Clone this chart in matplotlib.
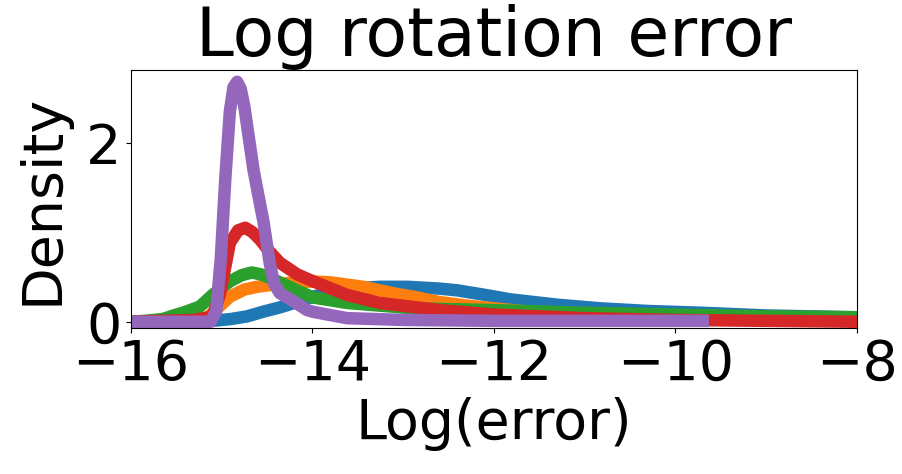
import matplotlib.pyplot as plt

# KDE curves (x = log error, y = density)
blue_x = [-16, -15.2, -14.9, -14.72, -14.55, -14.36, -14.17, -13.99, -13.8, -13.62, -13.26, -12.95, -12.6, -12.4, -12.1, -11.82, -11.3, -10.83, -10.3, -9.7, -9.0, -8.0]
blue_y = [0.0, 0.0, 0.03, 0.06, 0.11, 0.16, 0.22, 0.28, 0.33, 0.37, 0.39, 0.39, 0.37, 0.35, 0.3, 0.25, 0.19, 0.15, 0.12, 0.1, 0.07, 0.05]

orange_x = [-16, -15.2, -15.1, -14.91, -14.75, -14.61, -14.4, -14.17, -13.99, -13.8, -13.44, -13.07, -12.89, -12.6, -12.3, -12.0, -11.5, -11.0, -10.0, -9.0, -8.0]
orange_y = [0.0, 0.0, 0.1, 0.28, 0.36, 0.39, 0.42, 0.44, 0.45, 0.44, 0.39, 0.31, 0.28, 0.22, 0.18, 0.15, 0.1, 0.07, 0.04, 0.02, 0.01]

green_x = [-16, -15.85, -15.65, -15.53, -15.4, -15.24, -15.1, -14.91, -14.78, -14.67, -14.57, -14.47, -14.36, -14.17, -13.99, -13.62, -13.26, -12.89, -12.0, -11.0, -10.0, -9.0, -8.0]
green_y = [0.0, 0.01, 0.03, 0.07, 0.11, 0.17, 0.3, 0.45, 0.52, 0.55, 0.53, 0.49, 0.44, 0.35, 0.27, 0.21, 0.18, 0.15, 0.13, 0.1, 0.08, 0.06, 0.05]

red_x = [-16, -15.3, -15.1, -15.02, -14.91, -14.82, -14.74, -14.66, -14.58, -14.47, -14.36, -14.17, -13.99, -13.62, -13.26, -12.6, -12.0, -11.0, -10.0, -9.0, -8.0]
red_y = [0.0, 0.02, 0.06, 0.3, 0.88, 1.02, 1.05, 1.0, 0.92, 0.78, 0.66, 0.53, 0.45, 0.3, 0.21, 0.13, 0.08, 0.04, 0.02, 0.01, 0.0]

purple_x = [-16, -15.12, -15.06, -15.01, -14.96, -14.91, -14.87, -14.83, -14.79, -14.75, -14.7, -14.65, -14.59, -14.54, -14.47, -14.42, -14.36, -14.21, -14.06, -13.99, -13.62, -13.0, -12.0, -9.7]
purple_y = [0.0, 0.0, 0.12, 0.7, 1.6, 2.35, 2.62, 2.68, 2.6, 2.4, 2.05, 1.7, 1.38, 1.12, 0.65, 0.42, 0.32, 0.23, 0.13, 0.11, 0.04, 0.02, 0.01, 0.01]

fig = plt.figure(figsize=(9.03, 4.74), dpi=100)
ax = fig.add_axes([0.145, 0.308, 0.804, 0.544])

for xs, ys, c in [(blue_x, blue_y, 'tab:blue'), (orange_x, orange_y, 'tab:orange'),
                  (green_x, green_y, 'tab:green'), (red_x, red_y, 'tab:red'),
                  (purple_x, purple_y, 'tab:purple')]:
    ax.plot(xs, ys, color=c, linewidth=9, solid_joinstyle='round')

ax.set_xlim(-16, -8)
ax.set_ylim(-0.07, 2.81)
ax.set_xticks([-16, -14, -12, -10, -8])
ax.set_yticks([0, 2])
ax.tick_params(labelsize=40)
ax.set_xlabel('Log(error)', fontsize=40)
ax.set_ylabel('Density', fontsize=40, labelpad=12)
ax.set_title('Log rotation error', fontsize=49)

fig.savefig('out.png', dpi=100)
